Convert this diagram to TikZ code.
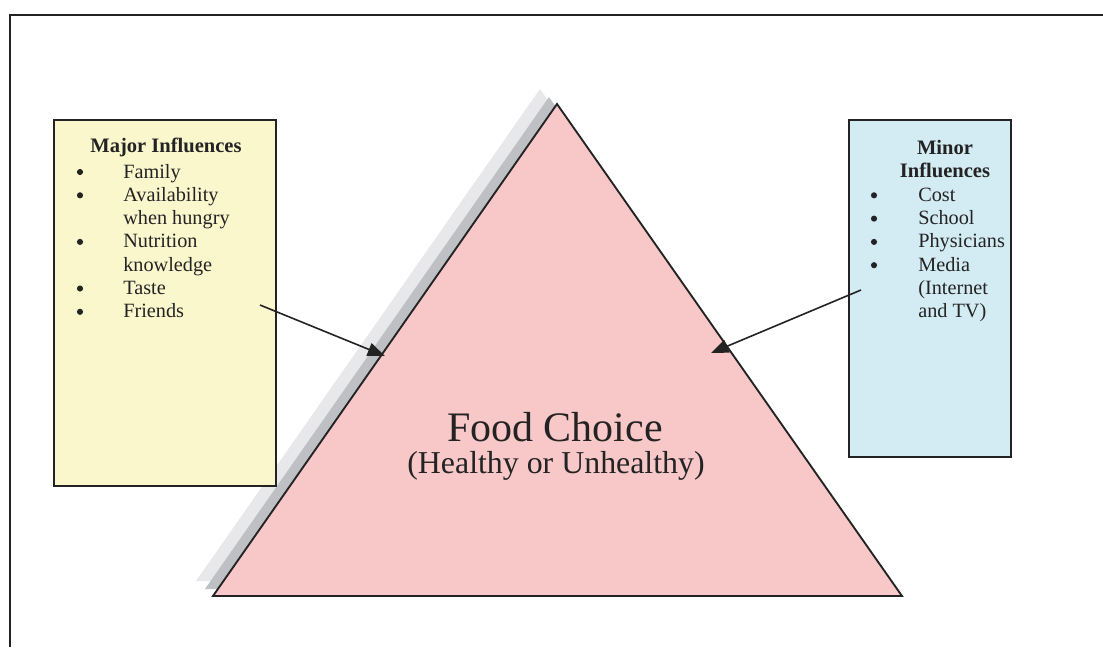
\documentclass[tikz,border=0pt]{standalone}
\usepackage{fontspec}
\setmainfont{Liberation Serif}
\usetikzlibrary{arrows.meta}
\definecolor{majfill}{RGB}{250,247,205}
\definecolor{minfill}{RGB}{211,235,243}
\definecolor{trifill}{RGB}{248,200,201}
\definecolor{shdark}{RGB}{190,192,196}
\definecolor{shlight}{RGB}{232,232,234}
\definecolor{ink}{RGB}{35,35,35}
\begin{document}
\begin{tikzpicture}[x=0.75pt,y=-0.75pt]
  \tikzset{box/.style={draw=ink,line width=1.2pt,rectangle,inner sep=0pt},
    itm/.style={anchor=base west,inner sep=0pt,text=ink,font=\fontsize{15.2}{17.5}\selectfont},
    hd/.style={anchor=base,inner sep=0pt,text=ink,font=\fontsize{15.4}{17.5}\selectfont\bfseries},
    blt/.style={circle,fill=ink,inner sep=0pt,minimum size=4.6pt},
    infl/.style={draw=ink,line width=1.2pt,-{Triangle[length=13pt,width=10pt]}}}
  \useasboundingbox (0,0) rectangle (1103,647);
  \draw[ink,line width=2pt] (10,647) -- (10,15) -- (1103,15);
  \coordinate (apex) at (557,104);
  \coordinate (bl) at (213,596);
  \coordinate (br) at (902,596);
  \fill[shlight] ([shift={(-17,-15)}]apex) -- ([shift={(-17,-15)}]br) -- ([shift={(-17,-15)}]bl) -- cycle;
  \fill[shdark] ([shift={(-8,-7)}]apex) -- ([shift={(-8,-7)}]br) -- ([shift={(-8,-7)}]bl) -- cycle;
  \draw[ink,line width=1.4pt,fill=trifill] (apex) -- (br) -- (bl) -- cycle;
  \node[text=ink,font=\fontsize{31.5}{36}\selectfont] (food) at (555,427) {Food Choice};
  \node[text=ink,font=\fontsize{23.9}{28}\selectfont] (kind) at (556,466) {(Healthy or Unhealthy)};
  \node[box,fill=majfill,minimum width=166.5pt,minimum height=274.5pt] (major) at (165,303) {};
  \node[box,fill=minfill,minimum width=121.5pt,minimum height=252.75pt] (minor) at (930,288.5) {};
  \node[hd] (majhd) at (166,152) {Major Influences};
  \foreach \n/\y/\txt in {1/178/Family,2/201.3/Availability,3/224.6/when hungry,4/247.9/Nutrition,5/271.2/knowledge,6/294.5/Taste,7/317.8/Friends}
    \node[itm] (maj\n) at (123,\y) {\txt};
  \foreach \n/\y in {1/178,2/201.3,4/247.9,6/294.5,7/317.8}
    \node[blt] (majb\n) at (80,\y-6) {};
  \node[hd] (minhd1) at (945,154.5) {Minor};
  \node[hd] (minhd2) at (945,177.8) {Influences};
  \foreach \n/\y/\txt in {1/201.3/Cost,2/224.6/School,3/247.9/Physicians,4/271.2/Media,5/294.5/(Internet,6/317.8/and TV)}
    \node[itm] (min\n) at (918,\y) {\txt};
  \foreach \n/\y in {1/201.3,2/224.6,3/247.9,4/271.2}
    \node[blt] (minb\n) at (874,\y-6) {};
  \coordinate (majtail) at (260,305);
  \coordinate (majtip) at (385,356);
  \coordinate (mintail) at (861,290);
  \coordinate (mintip) at (711,353);
  \draw[infl] (majtail) -- (majtip);
  \draw[infl] (mintail) -- (mintip);
\end{tikzpicture}
\end{document}
